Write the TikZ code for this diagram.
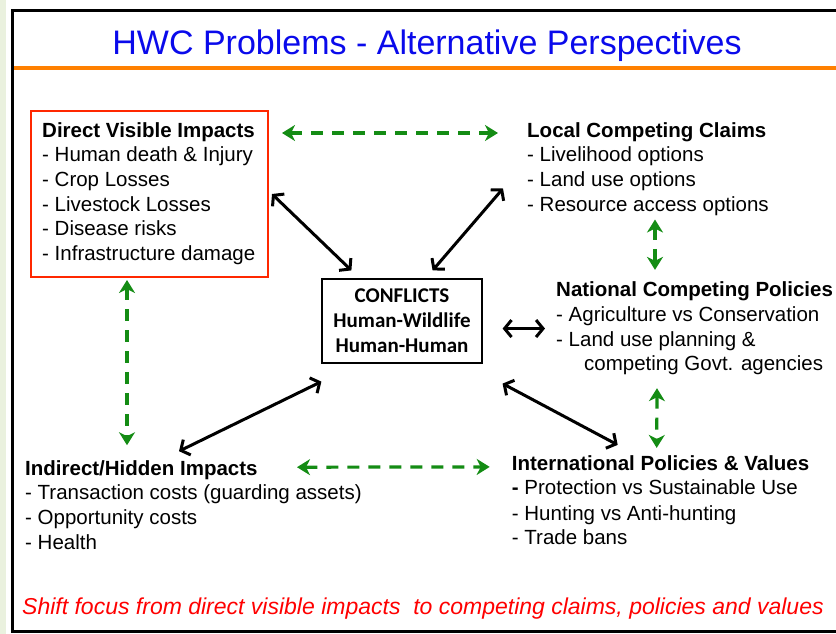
\documentclass[tikz,border=0pt]{standalone}
\usepackage{fontspec}
\setmainfont{Liberation Sans}
\newfontfamily\calib{Carlito}
\usetikzlibrary{arrows.meta,calc}
\definecolor{hwcgreen}{RGB}{20,140,20}
\definecolor{hwcred}{RGB}{255,40,0}
\definecolor{hwcorange}{RGB}{255,128,0}
\definecolor{hwcblue}{RGB}{10,10,235}
\definecolor{stripgreen}{RGB}{234,241,222}
\begin{document}
\begin{tikzpicture}[x=1pt,y=-1pt,
  bodytext/.style={anchor=north west, inner sep=0pt, align=left,
    font=\fontsize{20.5}{24.6}\selectfont},
  redbox/.style={draw=hwcred, line width=2pt, inner sep=0pt, anchor=north west,
    minimum width=237pt, minimum height=166pt},
  confbox/.style={draw=black, line width=1.2pt, minimum width=160pt, minimum height=84pt,
    inner sep=0pt, align=center, font=\calib\bfseries\fontsize{21}{25}\selectfont},
  blackarrow/.style={line width=3pt,
    {Straight Barb[length=7pt,width=17pt]}-{Straight Barb[length=7pt,width=17pt]}},
  greenarrow/.style={draw=hwcgreen, line width=3.2pt, dash pattern=on 12pt off 9pt,
    {Stealth[length=13pt,width=16pt,inset=4pt,fill=hwcgreen]}-{Stealth[length=13pt,width=16pt,inset=4pt,fill=hwcgreen]}},
  frameline/.style={line width=3pt, black}
]
\useasboundingbox (0,0) rectangle (836,634);
% background strip and frame
\fill[stripgreen] (0,0) rectangle (6,634);
\draw[frameline] (836,10.5) -- (12.5,10.5) -- (12.5,631.5) -- (836,631.5);
\draw[hwcorange, line width=4pt] (14,68.5) -- (836,68.5);

% title
\node[anchor=base, inner sep=0pt, text=hwcblue, font=\fontsize{34}{40}\selectfont] (title) at (427,55)
  {HWC Problems - Alternative Perspectives};

% boxes and text blocks
\node[redbox] (dvi) at (30,110) {};
\node[bodytext] (dvitext) at (42,122.2)
  {\textbf{Direct Visible Impacts}\\- Human death \& Injury\\- Crop Losses\\- Livestock Losses\\- Disease risks\\- Infrastructure damage};

\node[bodytext] (lcc) at (527,122.2)
  {\textbf{Local Competing Claims}\\- Livelihood options\\- Land use options\\- Resource access options};

\node[bodytext] (ncp) at (556,281.9)
  {\textbf{National Competing Policies}\\- Agriculture vs Conservation\\- Land use planning \&\\\hspace*{28pt}competing Govt. agencies};

\node[bodytext, font=\fontsize{20.5}{23.6}\selectfont] (ipv) at (511.7,455.9)
  {\textbf{International Policies \& Values}\\\textbf{-} Protection vs Sustainable Use\\[2.8pt]- Hunting vs Anti-hunting\\- Trade bans};

\node[bodytext] (ihi) at (25,460.2)
  {\textbf{Indirect/Hidden Impacts}\\- Transaction costs (guarding assets)\\- Opportunity costs\\- Health};

\node[confbox] (conf) at (402,321) {CONFLICTS\\Human-Wildlife\\Human-Human};

\node[anchor=base west, inner sep=0pt, text=red, font=\itshape\fontsize{23}{27}\selectfont] (shift) at (22,614)
  {Shift focus from direct visible impacts\ \ to competing claims, policies and values};

% black connectors
\draw[blackarrow] ($(dvi.east)+(3,0)$) -- ($(conf.north west)+(30,-8)$);
\draw[blackarrow] ($(conf.north east)+(-50,-8)$) -- ($(lcc.south west)+(-24,-27)$);
\draw[blackarrow] ($(conf.east |- ncp.west)+(20,0)$) -- ($(ncp.west)+(-11,0)$);
\draw[blackarrow] ($(conf.south east)+(20,20)$) -- ($(ipv.north west)+(106,-11)$);
\draw[blackarrow] ($(conf.south west)+(0,18)$) -- ($(ihi.north west)+(154,-9)$);

% green dashed connectors
\draw[greenarrow] ($(dvi.north east)+(13,23)$) -- ($(lcc.north west)+(-29,10.8)$);
\draw[greenarrow] ($(dvi.south west)+(97,2)$) -- ($(ihi.north west)+(102,-15)$);
\draw[greenarrow] ($(lcc.south west)+(128,4)$) -- ($(ncp.north west)+(99,-12)$);
\draw[greenarrow] ($(ncp.south west)+(101,13)$) -- ($(ipv.north west)+(145,-8)$);
\draw[greenarrow] ($(ihi.north west)+(272,7)$) -- ($(ipv.north west)+(-22,11)$);
\end{tikzpicture}
\end{document}
